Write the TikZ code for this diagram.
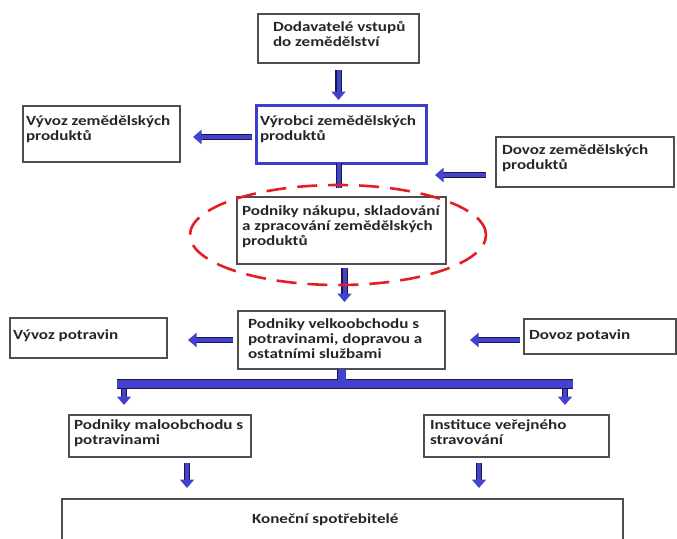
\documentclass[tikz,border=0pt]{standalone}
\usepackage{fontspec}
\setmainfont{Carlito}[FakeStretch=1.22]
\usetikzlibrary{arrows.meta}

\definecolor{arrowblue}{RGB}{66,66,206}
\definecolor{arrowedge}{RGB}{24,24,70}
\definecolor{boxblue}{RGB}{62,62,204}
\definecolor{boxgray}{RGB}{78,78,78}
\definecolor{dashred}{RGB}{228,30,38}

\begin{document}
\begin{tikzpicture}[x=1pt, y=-1pt,
    box/.style={draw=boxgray, line width=1.3pt, anchor=north west, outer sep=0pt,
        text=black!85, font=\bfseries\fontsize{14}{15}\selectfont},
    fat/.style={draw=arrowblue, line width=4pt, -{Triangle[width=14pt,length=8.5pt]},
        preaction={draw=arrowedge, line width=6.5pt, arrows=-, shorten >=6pt}},
    fatline/.style={draw=arrowblue, line width=4pt,
        preaction={draw=arrowedge, line width=6.5pt}},
    trunk/.style={draw=arrowblue, line width=8pt,
        preaction={draw=arrowedge, line width=9.5pt}}]
    \clip (0,0) rectangle (677,538);

    % boxes
    \node[box, inner xsep=8pt, inner ysep=7.5pt] (dodav) at (258,14)
        {\parbox[t][34pt][t]{145pt}{\leftskip=7pt Dodavatelé vstupů\\do zemědělství}};
    \node[box, draw=boxblue, line width=3pt, inner xsep=4pt, inner ysep=10.5pt] (vyrobci) at (256,105)
        {\parbox[t][37pt][t]{162pt}{Výrobci zemědělských\\produktů}};
    \node[box, inner xsep=3pt, inner ysep=9.5pt] (vyvozzem) at (23,106)
        {\parbox[t][37pt][t]{151pt}{Vývoz zemědělských\\produktů}};
    \node[box, inner xsep=6pt, inner ysep=7.5pt] (dovozzem) at (496,137)
        {\parbox[t][35pt][t]{166pt}{Dovoz zemědělských\\produktů}};
    \node[box, inner xsep=5pt, inner ysep=8.5pt] (nakup) at (237,197)
        {\parbox[t][50pt][t]{199pt}{Podniky nákupu, skladování\\a zpracování zemědělských\\produktů}};
    \node[box, inner xsep=10pt, inner ysep=7.5pt] (velko) at (238,311)
        {\parbox[t][43pt][t]{187pt}{Podniky velkoobchodu s\\potravinami, dopravou a\\ostatními službami}};
    \node[box, inner xsep=3pt, inner ysep=11.5pt] (vyvozpot) at (10,318)
        {\parbox[t][17pt][t]{151pt}{Vývoz potravin}};
    \node[box, inner xsep=5pt, inner ysep=10.5pt] (dovozpot) at (524,319)
        {\parbox[t][14pt][t]{142pt}{Dovoz potavin}};
    \node[box, inner xsep=5pt, inner ysep=4.5pt] (malo) at (69,415)
        {\parbox[t][33pt][t]{172pt}{Podniky maloobchodu s\\potravinami}};
    \node[box, inner xsep=6pt, inner ysep=4.5pt] (instit) at (424,415)
        {\parbox[t][33pt][t]{173pt}{Instituce veřejného\\stravování}};
    \node[box, inner xsep=190pt, inner ysep=14.5pt] (konec) at (62,499)
        {\parbox[t][31pt][t]{181pt}{Koneční spotřebitelé}};

    % arrows
    \draw[fat] ([yshift=-7pt]dodav.south) -- ++(0,30);
    \draw[fat] ([xshift=-4pt,yshift=-3pt]vyrobci.west) -- ([xshift=13pt,yshift=-3pt]vyvozzem.east);
    \draw[fat] ([xshift=-10pt,yshift=-13pt]dovozzem.west) -- ++(-51,0);
    \draw[fatline] ([xshift=-2pt]vyrobci.south) -- ++(0,25);
    \draw[fat] ([xshift=3pt,yshift=-4pt]nakup.south) -- ++(0,34);
    \draw[fat] ([xshift=-5pt]velko.west) -- ([xshift=21pt]vyvozpot.east |- velko.west);
    \draw[fat] ([xshift=-4pt]dovozpot.west |- velko.east) -- ([xshift=25pt]velko.east);

    % split to retail and catering
    \coordinate (barL) at (117,384);
    \coordinate (barR) at (573,384);
    \draw[fat] ([xshift=7pt]barL) -- ++(0,21);
    \draw[fat] ([xshift=-8pt]barR) -- ++(0,21);
    \draw[trunk] (velko.south) -- (velko.south |- barL) (barL) -- (barR);

    \draw[fat] ([xshift=27pt,yshift=-6pt]malo.south) -- ++(0,25);
    \draw[fat] ([xshift=-37.5pt,yshift=-6pt]instit.south) -- ++(0,25);

    % dashed ring
    \draw[dashred, line width=2.6pt, dash pattern=on 20pt off 11pt]
        (338,235) ellipse [x radius=148pt, y radius=50pt];
\end{tikzpicture}
\end{document}
